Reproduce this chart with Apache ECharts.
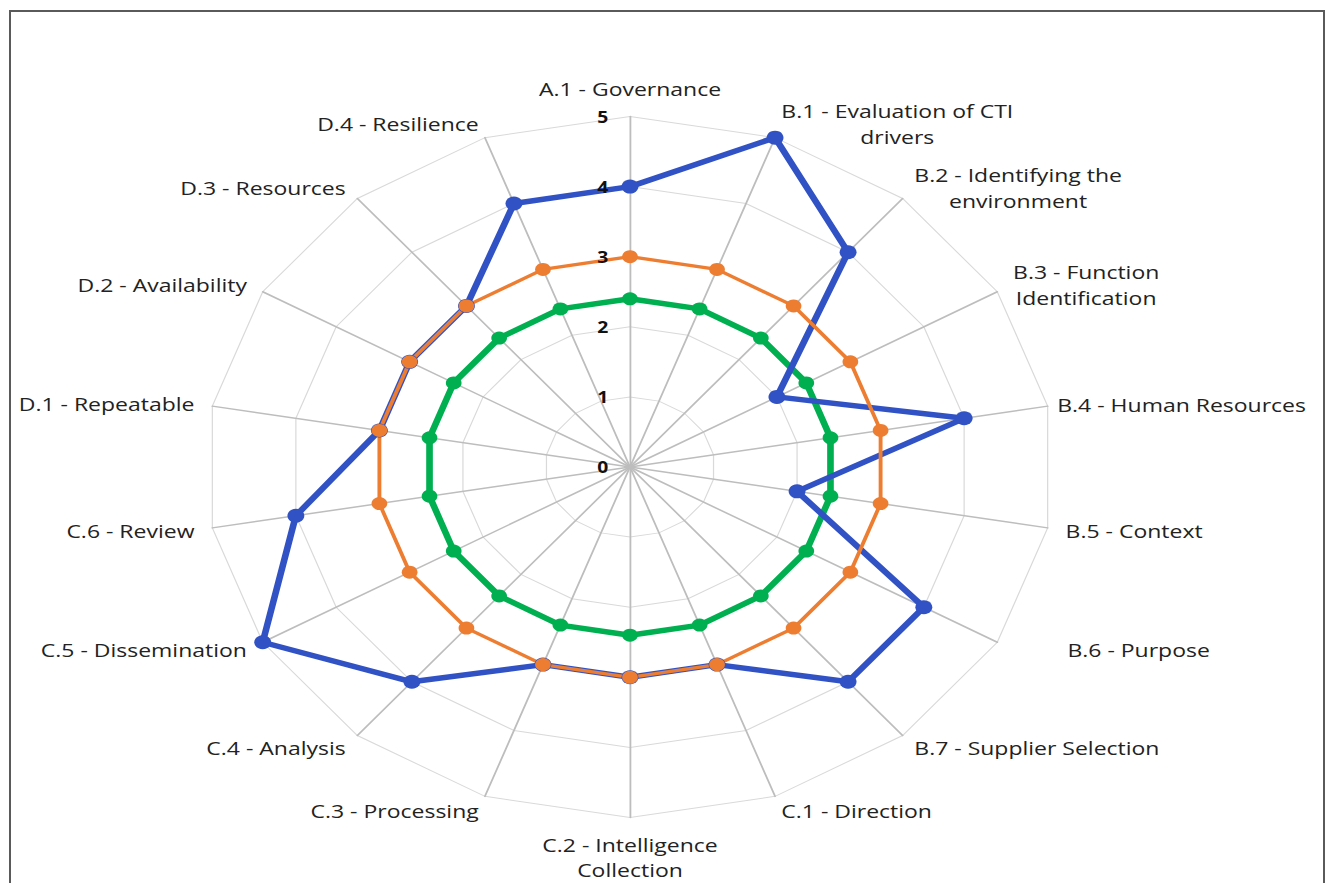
<!DOCTYPE html>
<html>
<head>
<meta charset="utf-8">
<script src="https://cdn.jsdelivr.net/npm/echarts@6/dist/echarts.min.js"></script>
<style>
html, body { margin: 0; padding: 0; background: #fff; width: 1327px; height: 883px; overflow: hidden; }
#frame { position: absolute; left: 9px; top: 10px; width: 1316px; height: 900px; border: 2px solid #5a5a5a; box-sizing: border-box; }
#chart { position: absolute; left: 0; top: 0; width: 1096.7px; height: 883px; transform: scaleX(1.21); transform-origin: 0 0; }
</style>
</head>
<body>
<div id="frame"></div>
<div id="chart"></div>
<script>
// ---- data (clockwise from the top) ----
const indicatorNames = [
  'A.1 - Governance',
  'B.1 - Evaluation of CTI\ndrivers',
  'B.2 - Identifying the\nenvironment',
  'B.3 - Function\nIdentification',
  'B.4 - Human Resources',
  'B.5 - Context',
  'B.6 - Purpose',
  'B.7 - Supplier Selection',
  'C.1 - Direction',
  'C.2 - Intelligence\nCollection',
  'C.3 - Processing',
  'C.4 - Analysis',
  'C.5 - Dissemination',
  'C.6 - Review',
  'D.1 - Repeatable',
  'D.2 - Availability',
  'D.3 - Resources',
  'D.4 - Resilience'
];
const axisMax = 5;
const seriesNames = ['Series 1', 'Series 2', 'Series 3'];
const blueValues   = [4, 5, 4, 2, 4, 2, 4, 4, 3, 3, 3, 4, 5, 4, 3, 3, 3, 4];
const orangeValues = [3, 3, 3, 3, 3, 3, 3, 3, 3, 3, 3, 3, 3, 3, 3, 3, 3, 3];
const greenValues  = [2.4, 2.4, 2.4, 2.4, 2.4, 2.4, 2.4, 2.4, 2.4, 2.4, 2.4, 2.4, 2.4, 2.4, 2.4, 2.4, 2.4, 2.4];

// ---- layout tweaks (not data) ----
const FONT = '"Open Sans", "DejaVu Sans", sans-serif';
const TEXT_COLOR = '#222222';
const namePadLeft = { 'B.6 - Purpose': 45 };
const tightNames = { 'C.2 - Intelligence\nCollection': true };
const nameGapOverride = { 'B.4 - Human Resources': 8 };
const CENTER = [520.66, 467];
const RADIUS = 350.5;

// ECharts radar runs counter-clockwise; reorder so the picture runs clockwise.
function toCCW(arr) { return [arr[0]].concat(arr.slice(1).reverse()); }

const gridIndicators = toCCW(indicatorNames).map(function (n) {
  const ind = { name: n, min: 0, max: axisMax };
  if (nameGapOverride[n] != null) ind.nameGap = nameGapOverride[n];
  return ind;
});

// second (overlay) radar that only carries the value labels on the first axis, above the lines
const labelIndicators = toCCW(indicatorNames).map(function (n, i) {
  const ind = { name: n, min: 0, max: axisMax };
  if (i === 0) {
    ind.axisLabel = {
      show: true, fontSize: 16, fontWeight: 'bold', color: '#111111',
      fontFamily: FONT, margin: 18
    };
  }
  return ind;
});

const chart = echarts.init(document.getElementById('chart'), null, { renderer: 'svg' });

const nameFont = { fontSize: 19, fontFamily: FONT, color: TEXT_COLOR, lineHeight: 26 };

chart.setOption({
  animation: false,
  backgroundColor: 'transparent',
  radar: [{
    center: CENTER,
    radius: RADIUS,
    startAngle: 90,
    shape: 'polygon',
    splitNumber: 5,
    nameGap: 15,
    indicator: gridIndicators,
    axisName: Object.assign({}, nameFont, {
      formatter: function (name) {
        let key = 'c';
        if (namePadLeft[name] != null) key = 'p';
        else if (tightNames[name]) key = 't';
        return name.split('\n').map(function (l) { return '{' + key + '|' + l + '}'; }).join('\n');
      },
      rich: {
        c: Object.assign({ align: 'center' }, nameFont),
        t: Object.assign({}, nameFont, { align: 'center', lineHeight: 24.5 }),
        p: Object.assign({ padding: [0, 0, 0, 45] }, nameFont)
      }
    }),
    axisLine: { show: true, lineStyle: { color: '#bdbdbd', width: 1.5 } },
    splitLine: { show: true, lineStyle: { color: '#d9d9d9', width: 1 } },
    splitArea: { show: false },
    axisTick: { show: false },
    axisLabel: { show: false }
  }, {
    z: 10,
    center: CENTER,
    radius: RADIUS,
    startAngle: 90,
    shape: 'polygon',
    splitNumber: 5,
    indicator: labelIndicators,
    axisName: { show: false },
    axisLine: { show: false },
    splitLine: { show: false },
    splitArea: { show: false },
    axisTick: { show: false },
    axisLabel: { show: false }
  }],
  series: [{
    type: 'radar',
    radarIndex: 0,
    symbol: 'circle',
    data: [
      {
        name: seriesNames[2], value: toCCW(greenValues), symbolSize: 13,
        lineStyle: { color: '#00B050', width: 5.5, join: 'round' },
        itemStyle: { color: '#00B050' }
      },
      {
        name: seriesNames[0], value: toCCW(blueValues), symbolSize: 14,
        lineStyle: { color: '#3052C4', width: 5.5, join: 'round' },
        itemStyle: { color: '#3052C4' }
      },
      {
        name: seriesNames[1], value: toCCW(orangeValues), symbolSize: 13,
        lineStyle: { color: '#ED7D31', width: 3.2, join: 'round' },
        itemStyle: { color: '#ED7D31' }
      }
    ]
  }]
});
</script>
</body>
</html>
